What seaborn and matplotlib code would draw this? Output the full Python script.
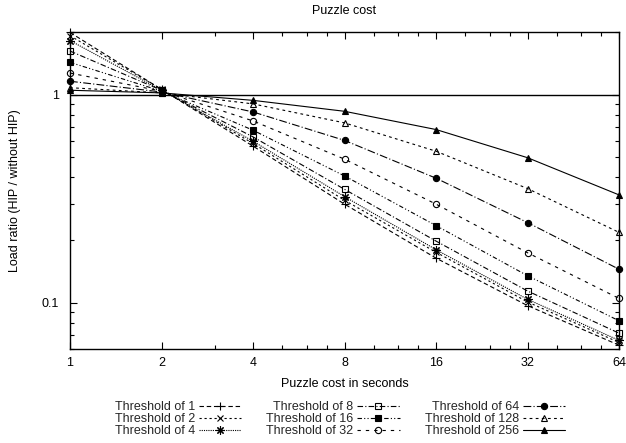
import matplotlib
matplotlib.use("Agg")
import matplotlib.pyplot as plt
import matplotlib.ticker as mticker
import seaborn as sns

# ---- data ----
puzzle_cost = [1, 2, 4, 8, 16, 32, 64]
thr_1 = [1.99, 1.06, 0.566, 0.298, 0.164, 0.097, 0.0626]
thr_2 = [1.92, 1.06, 0.583, 0.311, 0.175, 0.101, 0.0645]
thr_4 = [1.82, 1.05, 0.598, 0.324, 0.180, 0.104, 0.066]
thr_8 = [1.62, 1.05, 0.627, 0.351, 0.198, 0.114, 0.0715]
thr_16 = [1.43, 1.04, 0.675, 0.407, 0.235, 0.135, 0.082]
thr_32 = [1.27, 1.04, 0.748, 0.490, 0.298, 0.174, 0.105]
thr_64 = [1.16, 1.03, 0.826, 0.603, 0.397, 0.243, 0.145]
thr_128 = [1.08, 1.02, 0.903, 0.732, 0.535, 0.354, 0.218]
thr_256 = [1.05, 1.02, 0.939, 0.832, 0.680, 0.498, 0.330]

labels = ["Threshold of 1", "Threshold of 2", "Threshold of 4",
          "Threshold of 8", "Threshold of 16", "Threshold of 32",
          "Threshold of 64", "Threshold of 128", "Threshold of 256"]
series = [thr_1, thr_2, thr_4, thr_8, thr_16, thr_32, thr_64, thr_128, thr_256]

x_ticks = [1, 2, 4, 8, 16, 32, 64]
x_minor = [3, 5, 6, 7, 10, 12, 14, 20, 24, 28, 40, 48, 56]

# ---- styles ----
styles = [
    dict(marker="+", mfc="none", ms=6, ls=(0, (4, 2.5))),
    dict(marker="x", mfc="none", ms=5, ls=(0, (2, 2.5))),
    dict(marker=(8, 2, 0), mfc="none", ms=6, ls=(0, (1, 1))),
    dict(marker="s", mfc="none", ms=4.5, ls=(0, (5, 2, 1, 2))),
    dict(marker="s", mfc="black", ms=4.5, ls=(0, (4, 2, 1, 2, 1, 2))),
    dict(marker="o", mfc="none", ms=4.5, ls=(0, (3, 4.5))),
    dict(marker="o", mfc="black", ms=4.5, ls=(0, (7, 2, 1, 2))),
    dict(marker="^", mfc="none", ms=4.5, ls=(0, (2.5, 3))),
    dict(marker="^", mfc="black", ms=4, ls="-"),
]

sns.set_theme(style="ticks")
plt.rcParams["font.family"] = ["Liberation Sans", "DejaVu Sans"]
plt.rcParams["font.size"] = 9

fig = plt.figure(figsize=(6.26, 4.43), dpi=100)
ax = fig.add_axes([70 / 626, 1 - 349 / 443, (619 - 70) / 626, (349 - 32) / 443])

for lab, vals, st in zip(labels, series, styles):
    sns.lineplot(x=puzzle_cost, y=vals, ax=ax, color="black",
                 marker=st["marker"], markersize=st["ms"],
                 markerfacecolor=st["mfc"], markeredgecolor="black",
                 markeredgewidth=0.8, linewidth=0.8, linestyle=st["ls"],
                 label=lab, legend=False, clip_on=False, zorder=3)

ax.axhline(1.0, color="black", linewidth=1.0, zorder=2)

ax.set_xscale("log", base=2)
ax.set_yscale("log")
ax.set_xlim(1, 64)
ax.set_ylim(0.06, 2.0)

ax.xaxis.set_major_locator(mticker.FixedLocator(x_ticks))
ax.xaxis.set_major_formatter(mticker.FixedFormatter([str(v) for v in x_ticks]))
ax.xaxis.set_minor_locator(mticker.FixedLocator(x_minor))
ax.xaxis.set_minor_formatter(mticker.NullFormatter())

ax.yaxis.set_major_locator(mticker.FixedLocator([0.1, 1]))
ax.yaxis.set_major_formatter(mticker.FixedFormatter(["0.1", "1"]))
ax.yaxis.set_minor_locator(mticker.LogLocator(base=10, subs=range(2, 10)))
ax.yaxis.set_minor_formatter(mticker.NullFormatter())

ax.tick_params(which="both", direction="in", top=True, right=True,
               colors="black", labelsize=9, width=0.8)
ax.tick_params(which="major", length=5, pad=6)
ax.tick_params(which="minor", length=3)
ax.tick_params(axis="y", which="major", pad=8)
for sp in ax.spines.values():
    sp.set_color("black")
    sp.set_linewidth(1.0)
ax.grid(False)

ax.set_title("Puzzle cost", fontsize=9, pad=13, color="black")
ax.set_xlabel("Puzzle cost in seconds", fontsize=9, labelpad=6, color="black")
ax.set_ylabel("Load ratio (HIP / without HIP)", fontsize=9, labelpad=15, color="black")

handles = [l for l in ax.lines if l.get_label() in labels]
fig.legend(handles, labels, loc="upper center", bbox_to_anchor=(0.543, 0.095),
           ncol=3, frameon=False, markerfirst=False, handlelength=3.4,
           handletextpad=0.3, columnspacing=2.0, labelspacing=0.0,
           borderpad=0, borderaxespad=0, fontsize=9, numpoints=1)

fig.savefig("out.png", dpi=100)
